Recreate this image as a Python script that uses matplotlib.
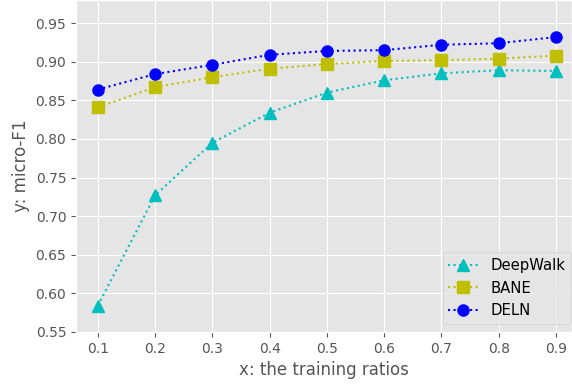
import matplotlib
matplotlib.use("Agg")
import matplotlib.pyplot as plt

plt.style.use("ggplot")

ratios = [0.1, 0.2, 0.3, 0.4, 0.5, 0.6, 0.7, 0.8, 0.9]
deepwalk = [0.584, 0.727, 0.795, 0.834, 0.860, 0.876, 0.885, 0.889, 0.888]
bane = [0.841, 0.867, 0.880, 0.891, 0.897, 0.901, 0.902, 0.904, 0.908]
deln = [0.864, 0.884, 0.896, 0.909, 0.914, 0.915, 0.922, 0.924, 0.932]

fig = plt.figure(figsize=(5.72, 3.85), dpi=100)
ax = fig.add_axes([0.133, 0.138, 0.867, 0.862])
ax.plot(ratios, deepwalk, linestyle=":", color="c", marker="^", markersize=8, label="DeepWalk")
ax.plot(ratios, bane, linestyle=":", color="y", marker="s", markersize=8, label="BANE")
ax.plot(ratios, deln, linestyle=":", color="b", marker="o", markersize=8, label="DELN")
ax.set_xlim(0.062, 0.928)
ax.set_ylim(0.55, 0.98)
ax.set_xticks(ratios)
ax.set_yticks([0.55, 0.60, 0.65, 0.70, 0.75, 0.80, 0.85, 0.90, 0.95])
ax.tick_params(labelsize=10)
ax.set_xlabel("x: the training ratios", fontsize=12)
ax.set_ylabel("y: micro-F1", fontsize=12)
ax.legend(loc="lower right", fontsize=10.7, bbox_to_anchor=(0.998, 0.024), borderaxespad=0)
fig.savefig("out.png", dpi=100)
